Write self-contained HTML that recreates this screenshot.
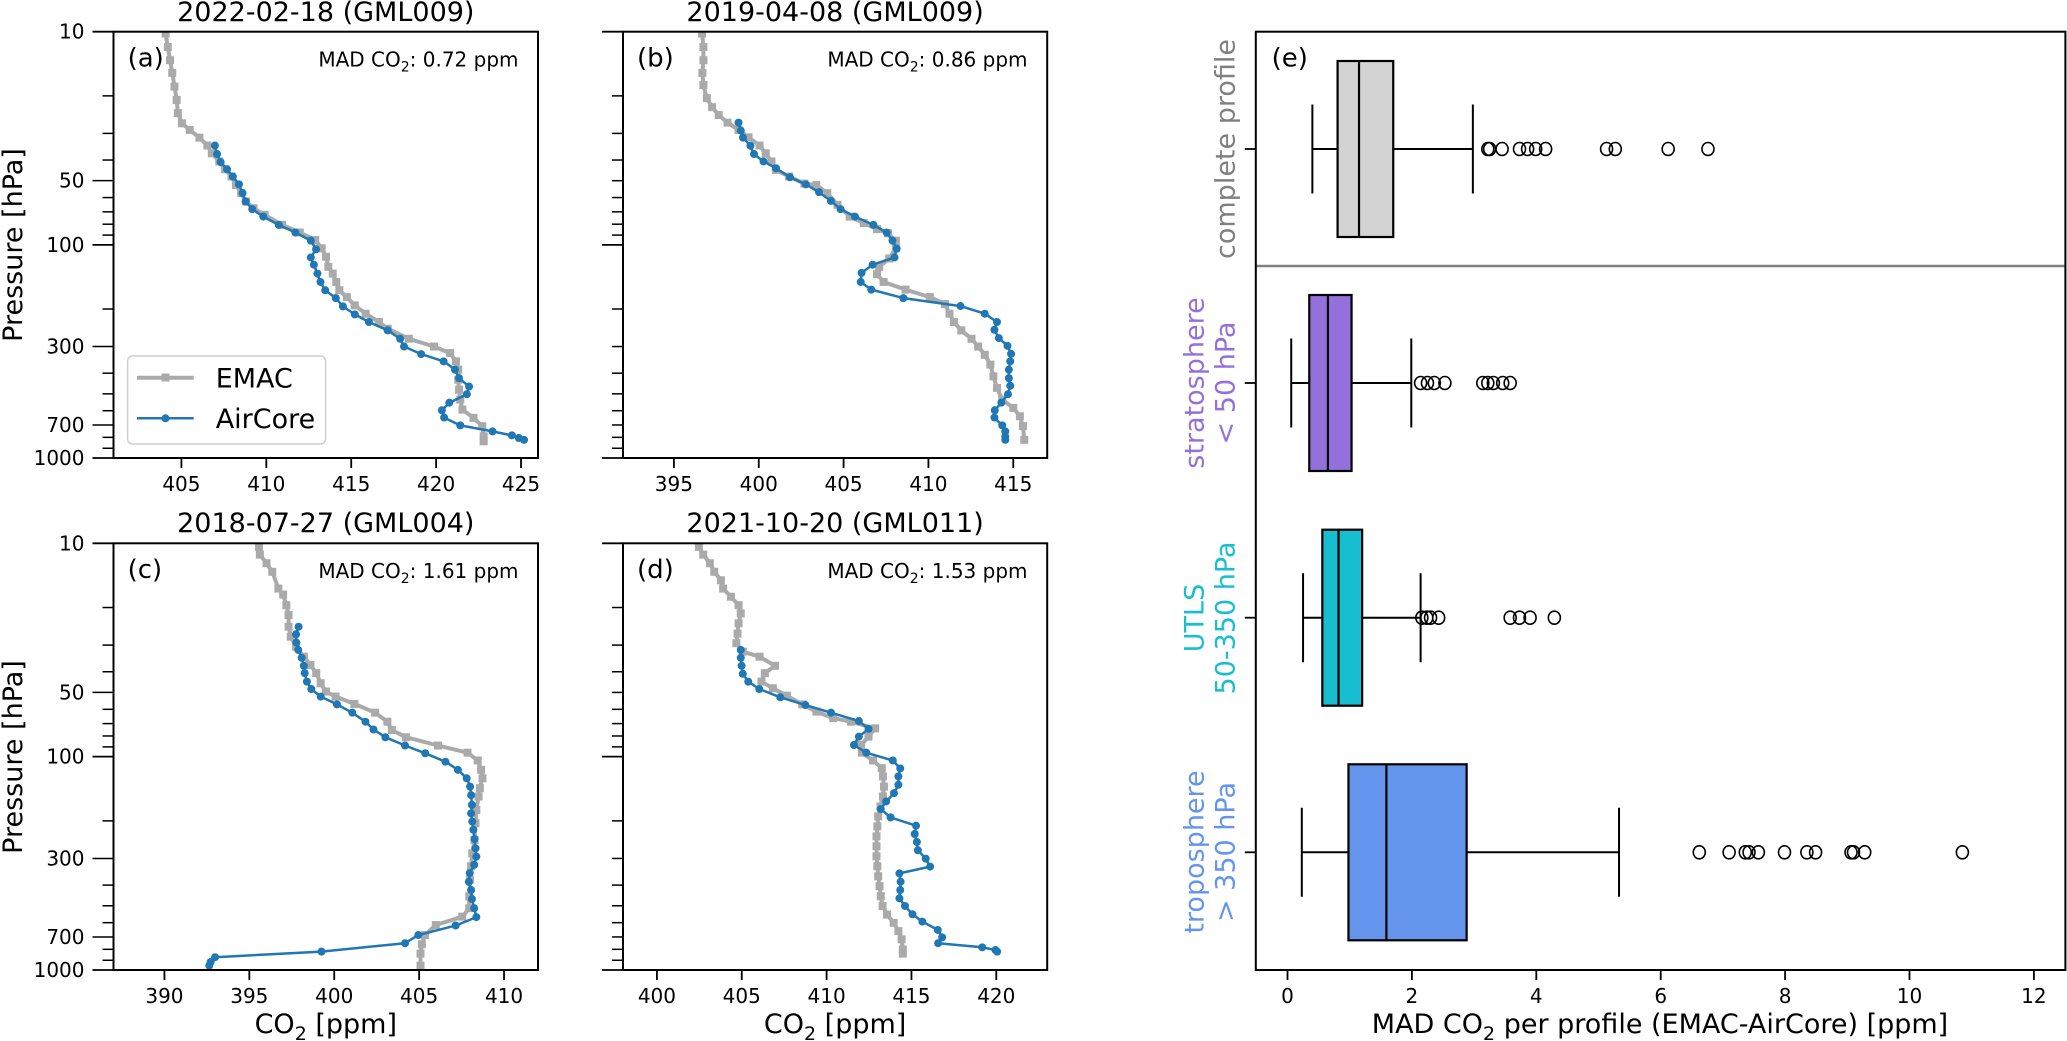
<!DOCTYPE html>
<html><head><meta charset="utf-8">
<style>
html,body{margin:0;padding:0;background:#fff;}
svg{display:block;font-family:"DejaVu Sans","Liberation Sans",sans-serif;}
</style></head>
<body>
<svg id="fig" width="2067" height="1041" viewBox="0 0 2067 1041">
<rect x="0" y="0" width="2067" height="1041" fill="#fff"/>
<g id="layer"></g>
<!-- titles -->
<text x="325.8" y="21" font-size="27" text-anchor="middle">2022-02-18 (GML009)</text>
<text x="835.1" y="21" font-size="27" text-anchor="middle">2019-04-08 (GML009)</text>
<text x="325.8" y="532" font-size="27" text-anchor="middle">2018-07-27 (GML004)</text>
<text x="835.1" y="532" font-size="27" text-anchor="middle">2021-10-20 (GML011)</text>
<!-- panel labels -->
<text x="127.6" y="66.7" font-size="26">(a)</text>
<text x="637" y="66.7" font-size="26">(b)</text>
<text x="127.6" y="578" font-size="26">(c)</text>
<text x="637" y="578" font-size="26">(d)</text>
<text x="1271.6" y="66.7" font-size="26">(e)</text>
<!-- MAD annotations -->
<text x="518.5" y="66.7" font-size="20" text-anchor="end">MAD CO<tspan font-size="14" dy="5">2</tspan><tspan dy="-5">: 0.72 ppm</tspan></text>
<text x="1027.5" y="66.7" font-size="20" text-anchor="end">MAD CO<tspan font-size="14" dy="5">2</tspan><tspan dy="-5">: 0.86 ppm</tspan></text>
<text x="518.5" y="578" font-size="20" text-anchor="end">MAD CO<tspan font-size="14" dy="5">2</tspan><tspan dy="-5">: 1.61 ppm</tspan></text>
<text x="1027.5" y="578" font-size="20" text-anchor="end">MAD CO<tspan font-size="14" dy="5">2</tspan><tspan dy="-5">: 1.53 ppm</tspan></text>
<!-- axis labels -->
<text transform="translate(22,245) rotate(-90)" font-size="27" text-anchor="middle">Pressure [hPa]</text>
<text transform="translate(22,757) rotate(-90)" font-size="27" text-anchor="middle">Pressure [hPa]</text>
<text x="325.8" y="1033" font-size="27" text-anchor="middle">CO<tspan font-size="19" dy="7">2</tspan><tspan dy="-7"> [ppm]</tspan></text>
<text x="835.1" y="1033" font-size="27" text-anchor="middle">CO<tspan font-size="19" dy="7">2</tspan><tspan dy="-7"> [ppm]</tspan></text>
<text x="1660" y="1033" font-size="27" text-anchor="middle">MAD CO<tspan font-size="19" dy="7">2</tspan><tspan dy="-7"> per profile (EMAC-AirCore) [ppm]</tspan></text>
<!-- category labels -->
<text transform="translate(1226,149) rotate(-90)" font-size="27" text-anchor="middle" dominant-baseline="central" fill="#808080">complete profile</text>
<text transform="translate(1195,383) rotate(-90)" font-size="27" text-anchor="middle" dominant-baseline="central" fill="#9370db">stratosphere</text>
<text transform="translate(1226,383) rotate(-90)" font-size="27" text-anchor="middle" dominant-baseline="central" fill="#9370db">&lt; 50 hPa</text>
<text transform="translate(1195,618) rotate(-90)" font-size="27" text-anchor="middle" dominant-baseline="central" fill="#17becf">UTLS</text>
<text transform="translate(1226,618) rotate(-90)" font-size="27" text-anchor="middle" dominant-baseline="central" fill="#17becf">50-350 hPa</text>
<text transform="translate(1195,852) rotate(-90)" font-size="27" text-anchor="middle" dominant-baseline="central" fill="#6495ed">troposphere</text>
<text transform="translate(1226,852) rotate(-90)" font-size="27" text-anchor="middle" dominant-baseline="central" fill="#6495ed">&gt; 350 hPa</text>
<!-- legend -->
<g>
<rect x="127.6" y="356" width="198" height="88" rx="5" fill="#fff" fill-opacity="0.8" stroke="#d0d0d0" stroke-width="1.5"/>
<line x1="137" y1="377.7" x2="193.7" y2="377.7" stroke="#aaaaaa" stroke-width="4"/>
<rect x="161.5" y="373.5" width="8" height="8" fill="#aaaaaa"/>
<text x="215.7" y="387.5" font-size="27">EMAC</text>
<line x1="137" y1="418.3" x2="193.7" y2="418.3" stroke="#1f77b4" stroke-width="2.5"/>
<circle cx="165.5" cy="418.3" r="4" fill="#1f77b4"/>
<text x="215.7" y="428" font-size="27">AirCore</text>
</g>
</svg>
<script>
// ---------- data: profile panels ----------
const aEmacP = [10.2,11.8,13.6,15.6,18.1,20.9,24.1,26.9,28.9,31.4,34.2,37.2,40.6,44.2,47.8,52.4,57.2,62.6,67.3,72.3,80.6,87.5,94.9,103.8,113.7,126.8,136.4,149.3,163.3,175.8,192.3,210.4,230.1,247.4,275.8,299.9,322,352,385,429,478,532,593,648,709,791,835];
const aEmacC = [404.07,404.2,404.33,404.46,404.59,404.72,404.79,405.03,405.49,406.06,406.53,406.79,407.23,407.56,407.95,408.21,408.52,408.81,409.25,409.9,410.93,411.97,412.88,413.26,413.52,413.65,413.91,414.12,414.3,414.74,415.21,415.85,416.63,417.15,418.39,419.87,420.83,421.17,421.3,421.3,421.35,421.42,421.55,422.2,422.72,422.8,422.8];
const aAirP = [34.2,37.5,40.9,44.2,47.8,52,57.2,62.6,68,73.7,80.6,87.5,95.6,104.8,114.6,123.9,136.4,149.3,163.3,177.8,194.4,211.9,230.1,252,275.8,299.9,325.5,352,385,422,462,502,550,597,646,703,750,783,806,822];
const aAirC = [406.97,407.1,407.31,407.69,408.03,408.39,408.6,408.78,409.17,409.82,410.73,411.71,412.62,412.93,412.62,412.8,413.01,413.19,413.47,414.09,414.51,415.21,416.04,417.15,417.88,418.11,419.12,420.44,421.11,421.35,421.94,421.81,420.78,420.34,420.47,421.42,423.32,424.46,424.87,425.18];

const bEmacP = [10.2,11.8,13.6,15.6,17.8,20.5,22.6,24.6,26.7,28.9,31.3,34.2,37.2,40.6,44.5,47.8,51.6,52.4,57.2,64.9,73.7,79.1,84.4,88.3,95.6,103.8,115.9,126.8,137.4,149.3,162.2,175.8,189.6,210.4,230.1,252,275.8,299.9,328,364.6,413.8,469,532,582,637,709,822];
const bEmacC = [396.66,396.74,396.74,396.68,396.74,396.94,397.25,397.64,398.16,398.81,399.4,400.05,400.41,400.75,401.01,401.79,402.69,403.39,404.04,404.64,405.36,406.19,406.97,407.62,408.08,408.08,407.69,407.1,406.97,407.36,408.65,410.08,410.98,411.24,411.5,411.94,412.54,412.93,413.32,413.65,413.83,414.04,414.35,415,415.39,415.57,415.65];
const bAirP = [26.7,29.1,31.4,34.3,37.5,40.6,43.7,48.2,52,56.6,62.2,68,73.7,80.6,87.5,95.6,104.2,114.6,123.9,135.4,149.3,162.2,177.8,193.7,210.4,230.1,250.3,273.8,297.7,324.4,352,385,422,457.9,502,550,597,646,703,750,793,822];
const bAirC = [398.81,398.94,399.07,399.51,399.72,400.28,401.01,401.84,402.77,403.55,404.25,404.82,405.67,406.76,407.54,407.88,408.13,408,406.71,406.06,406.01,406.63,408.52,411.89,413.32,414.04,413.89,414.15,414.66,414.87,414.82,414.74,414.74,414.82,414.69,414.3,413.91,413.89,414.35,414.53,414.53,414.53];

const cEmacP = [10.4,11.3,12.4,13.6,16.3,17.4,19.5,21.7,24.6,27.4,30.5,34,37.2,40.6,45.3,49.5,52.3,56.6,62.2,68.6,75,81.1,88.7,95.8,104.2,115.3,126.3,140.6,153.8,177.8,205.4,245.6,283.9,326.5,377.4,452,513.4,562.3,615.6,685.8,757,837.9,954];
const cEmacC = [395.57,395.62,396.01,396.35,396.71,396.99,397.18,397.31,397.31,397.44,397.75,398.21,398.6,398.94,399.2,399.51,400.08,401.19,402.41,403.13,403.39,404.22,406.11,407.85,408.45,408.65,408.73,408.58,408.5,408.37,408.32,408.26,408.13,408.06,408,407.95,407.95,407.54,405.98,405.34,405.16,405.08,405.08];
const cAirP = [24.6,26.7,29.2,31.6,34.4,37.5,40.6,44.5,48.2,52.3,56.9,62.2,68.6,74.6,81.1,88.7,96.4,105.6,115.3,126.3,138.2,151.6,168.3,184.5,201.6,220.3,243.3,268.8,294,321.4,351.3,385.6,422,465,513.4,565,619,685.8,749,820,871,917,954];
const cAirC = [397.9,397.75,397.77,397.88,398.08,398.21,398.26,398.39,398.65,399.2,400.16,401.06,401.84,402.31,403.01,404.17,405.36,406.55,407.28,407.8,408,408.06,408.11,408.06,408.13,408.19,408.26,408.32,408.37,408.24,407.98,407.93,408.06,408.11,408.24,408.37,407.15,404.95,404.17,399.25,392.98,392.72,392.64];

const dEmacP = [10.4,11.3,12.4,13.6,14.9,16.3,17.8,19.5,21.3,23.7,26.5,29.4,32.2,34,37.5,40.6,44.5,47.8,51.8,56.9,61.5,66,68.6,73.7,80.6,88.2,95.8,104.2,113.2,123.8,138.2,153.8,171.1,190.6,212.2,236.3,263.2,293,326.5,363.5,404.8,450.7,502,550,601,657,718,801,838];
const dEmacC = [402.47,402.73,403.12,403.38,403.77,403.9,404.36,404.81,404.94,404.81,404.75,404.68,405.06,406.05,406.96,406.36,406.16,406.83,407.66,408.57,409.4,410.39,411.43,412.86,412.47,412.03,412.08,412.73,413.25,413.32,413.38,413.32,413.17,413.04,412.99,412.94,412.94,412.94,412.99,413.04,413.12,413.19,413.3,413.56,413.95,414.23,414.42,414.49,414.49];
const dAirP = [31.6,34.4,37.5,40.9,44.5,48.2,52.7,57.3,62.2,68.1,74.1,80.6,88.2,95.8,104.2,113.6,123.8,135.5,148.3,162.2,176.1,192.6,210.6,230.4,251.1,274.7,300.4,327.6,352.5,385.6,422,461.4,501,548,593,649,703,749,783,806,820];
const dAirC = [404.94,404.94,404.99,405.06,405.38,406.03,407.27,408.75,410.26,411.9,412.47,411.9,411.61,412.34,413.9,414.34,414.23,414.23,413.97,413.51,413.19,413.77,415.27,415.19,415.32,415.38,415.84,416.1,414.29,414.36,414.34,414.29,414.62,415.06,415.64,416.55,416.81,416.57,419.17,419.95,420.05];

// x-axis limits and tick labels per panel
const xLimA = [401, 426], xLimB = [392, 417], xLimC = [387, 412], xLimD = [398, 423];
const xTicksA = [405, 410, 415, 420, 425];
const xTicksB = [395, 400, 405, 410, 415];
const xTicksC = [390, 395, 400, 405, 410];
const xTicksD = [400, 405, 410, 415, 420];
const pTickLabels = [10, 50, 100, 300, 700, 1000];
const pMinorTicks = [20,30,40,50,60,70,80,90,200,300,400,500,600,700,800,900];

// ---------- data: box plot ----------
const boxCats = ['complete','stratosphere','utls','troposphere'];
const boxFill = ['#d3d3d3','#9370db','#17becf','#6495ed'];
const whiskLo = [0.40, 0.06, 0.25, 0.23];
const q1 = [0.805, 0.35, 0.56, 0.98];
const med = [1.15, 0.65, 0.82, 1.59];
const q3 = [1.70, 1.03, 1.20, 2.88];
const whiskHi = [2.98, 1.99, 2.14, 5.33];
const outComplete = [3.22,3.25,3.45,3.73,3.86,3.99,4.15,5.13,5.27,6.12,6.76];
const outStrat = [2.14,2.25,2.36,2.53,3.14,3.22,3.31,3.46,3.58];
const outUtls = [2.16,2.24,2.30,2.43,3.58,3.73,3.90,4.29];
const outTrop = [6.62,7.1,7.36,7.42,7.57,7.99,8.35,8.49,9.06,9.1,9.28,10.85];
const boxXTicks = [0,2,4,6,8,10,12];

const svg = document.getElementById('fig');
const layer = document.getElementById('layer');
const NS = svg.namespaceURI;
function mk(tag, attrs, parent) {
  const e = document.createElementNS(NS, tag);
  for (const k in attrs) e.setAttribute(k, attrs[k]);
  (parent || layer).appendChild(e);
  return e;
}

function drawPanel(id, box, xLim, xTicks, series, labelY) {
  const g = mk('g', {});
  
  
  const sx = v => box.x0 + (v - xLim[0]) / (xLim[1] - xLim[0]) * (box.x1 - box.x0);
  const sy = p => box.y0 + (Math.log10(p) - 1) / 2 * (box.y1 - box.y0);
  // clip
  const cp = mk('clipPath', {id: 'clip-' + id}, g);
  mk('rect', {x: box.x0, y: box.y0, width: box.x1 - box.x0, height: box.y1 - box.y0}, cp);
  const plot = mk('g', {'clip-path': 'url(#clip-' + id + ')'}, g);
  // series
  series.forEach(s => {
    const pts = s.p.map((p, i) => sx(s.c[i]).toFixed(1) + ',' + sy(p).toFixed(1)).join(' ');
    const line = mk('polyline', {points: pts, fill: 'none', stroke: s.color, 'stroke-width': s.lw, 'stroke-linejoin': 'round'}, plot);
    
    
    s.p.forEach((p, i) => {
      let m;
      if (s.square) {
        m = mk('rect', {x: sx(s.c[i]) - 4, y: sy(p) - 4, width: 8, height: 8, fill: s.color}, plot);
      } else {
        m = mk('circle', {cx: sx(s.c[i]), cy: sy(p), r: 4, fill: s.color}, plot);
      }
      
      
    });
  });
  // frame
  const fr = mk('rect', {x: box.x0, y: box.y0, width: box.x1 - box.x0, height: box.y1 - box.y0, fill: 'none', stroke: '#000', 'stroke-width': 2}, g);
  
  
  // x ticks
  xTicks.forEach(t => {
    const x = sx(t);
    mk('line', {x1: x, y1: box.y1, x2: x, y2: box.y1 + 10, stroke: '#000', 'stroke-width': 1.8}, g);
    const tl = mk('text', {x: x, y: box.y1 + 33, 'font-size': 20, 'text-anchor': 'middle'}, g);
    tl.textContent = t;
    
    
  });
  // y ticks
  [10, 100, 1000].forEach(p => {
    mk('line', {x1: box.x0 - 21, y1: sy(p), x2: box.x0, y2: sy(p), stroke: '#000', 'stroke-width': 1.8}, g);
  });
  pMinorTicks.forEach(p => {
    const long = labelY && pTickLabels.indexOf(p) >= 0;
    mk('line', {x1: box.x0 - (long ? 21 : 11), y1: sy(p), x2: box.x0, y2: sy(p), stroke: '#000', 'stroke-width': 1.5}, g);
  });
  if (labelY) {
    pTickLabels.forEach(p => {
      const tl = mk('text', {x: box.x0 - 29, y: sy(p) + 7, 'font-size': 20, 'text-anchor': 'end'}, g);
      tl.textContent = p;
      
      
    });
  }
}

const GRAY = '#aaaaaa', BLUE = '#1f77b4';
drawPanel('a', {x0: 113.5, x1: 538, y0: 31.7, y1: 458}, xLimA, xTicksA, [
  {p: aEmacP, c: aEmacC, color: GRAY, lw: 4, square: true, name: 'emac-a'},
  {p: aAirP, c: aAirC, color: BLUE, lw: 2.5, square: false, name: 'aircore-a'}], true);
drawPanel('b', {x0: 623, x1: 1047.2, y0: 31.7, y1: 458}, xLimB, xTicksB, [
  {p: bEmacP, c: bEmacC, color: GRAY, lw: 4, square: true, name: 'emac-b'},
  {p: bAirP, c: bAirC, color: BLUE, lw: 2.5, square: false, name: 'aircore-b'}], false);
drawPanel('c', {x0: 113.5, x1: 538, y0: 543.3, y1: 970}, xLimC, xTicksC, [
  {p: cEmacP, c: cEmacC, color: GRAY, lw: 4, square: true, name: 'emac-c'},
  {p: cAirP, c: cAirC, color: BLUE, lw: 2.5, square: false, name: 'aircore-c'}], true);
drawPanel('d', {x0: 623, x1: 1047.2, y0: 543.3, y1: 970}, xLimD, xTicksD, [
  {p: dEmacP, c: dEmacC, color: GRAY, lw: 4, square: true, name: 'emac-d'},
  {p: dAirP, c: dAirC, color: BLUE, lw: 2.5, square: false, name: 'aircore-d'}], false);

// ---------- box plot panel ----------
(function () {
  const E = {x0: 1255.8, x1: 2065.4, y0: 31.7, y1: 970};
  const vx = v => 1287.5 + v * 62.2;
  const catY = [149, 383, 617.7, 852.3];
  const outs = [outComplete, outStrat, outUtls, outTrop];
  const g = mk('g', {});
  
  
  const dv = mk('line', {x1: E.x0, y1: 266, x2: E.x1, y2: 266, stroke: '#808080', 'stroke-width': 2.5}, g);
  
  
  boxCats.forEach((c, i) => {
    const y = catY[i];
    const w1 = mk('line', {x1: vx(whiskLo[i]), y1: y, x2: vx(q1[i]), y2: y, stroke: '#000', 'stroke-width': 2}, g);
    
    
    const w2 = mk('line', {x1: vx(q3[i]), y1: y, x2: vx(whiskHi[i]), y2: y, stroke: '#000', 'stroke-width': 2}, g);
    
    
    const c1 = mk('line', {x1: vx(whiskLo[i]), y1: y - 44.5, x2: vx(whiskLo[i]), y2: y + 44.5, stroke: '#000', 'stroke-width': 2}, g);
    
    
    const c2 = mk('line', {x1: vx(whiskHi[i]), y1: y - 44.5, x2: vx(whiskHi[i]), y2: y + 44.5, stroke: '#000', 'stroke-width': 2}, g);
    
    
    const b = mk('rect', {x: vx(q1[i]), y: y - 88, width: vx(q3[i]) - vx(q1[i]), height: 176, fill: boxFill[i], stroke: '#000', 'stroke-width': 2.2}, g);
    
    
    const m = mk('line', {x1: vx(med[i]), y1: y - 88, x2: vx(med[i]), y2: y + 88, stroke: '#000', 'stroke-width': 2.2}, g);
    
    
    outs[i].forEach(v => {
      const o = mk('ellipse', {cx: vx(v), cy: y, rx: 6, ry: 6.5, fill: 'none', stroke: '#000', 'stroke-width': 1.6}, g);
      
      
    });
    mk('line', {x1: E.x0 - 11, y1: y, x2: E.x0, y2: y, stroke: '#000', 'stroke-width': 1.8}, g);
  });
  const fr = mk('rect', {x: E.x0, y: E.y0, width: E.x1 - E.x0, height: E.y1 - E.y0, fill: 'none', stroke: '#000', 'stroke-width': 2}, g);
  
  
  boxXTicks.forEach(t => {
    mk('line', {x1: vx(t), y1: E.y1, x2: vx(t), y2: E.y1 + 10, stroke: '#000', 'stroke-width': 1.8}, g);
    const tl = mk('text', {x: vx(t), y: E.y1 + 33, 'font-size': 20, 'text-anchor': 'middle'}, g);
    tl.textContent = t;
    
    
  });
})();
</script>
</body></html>
